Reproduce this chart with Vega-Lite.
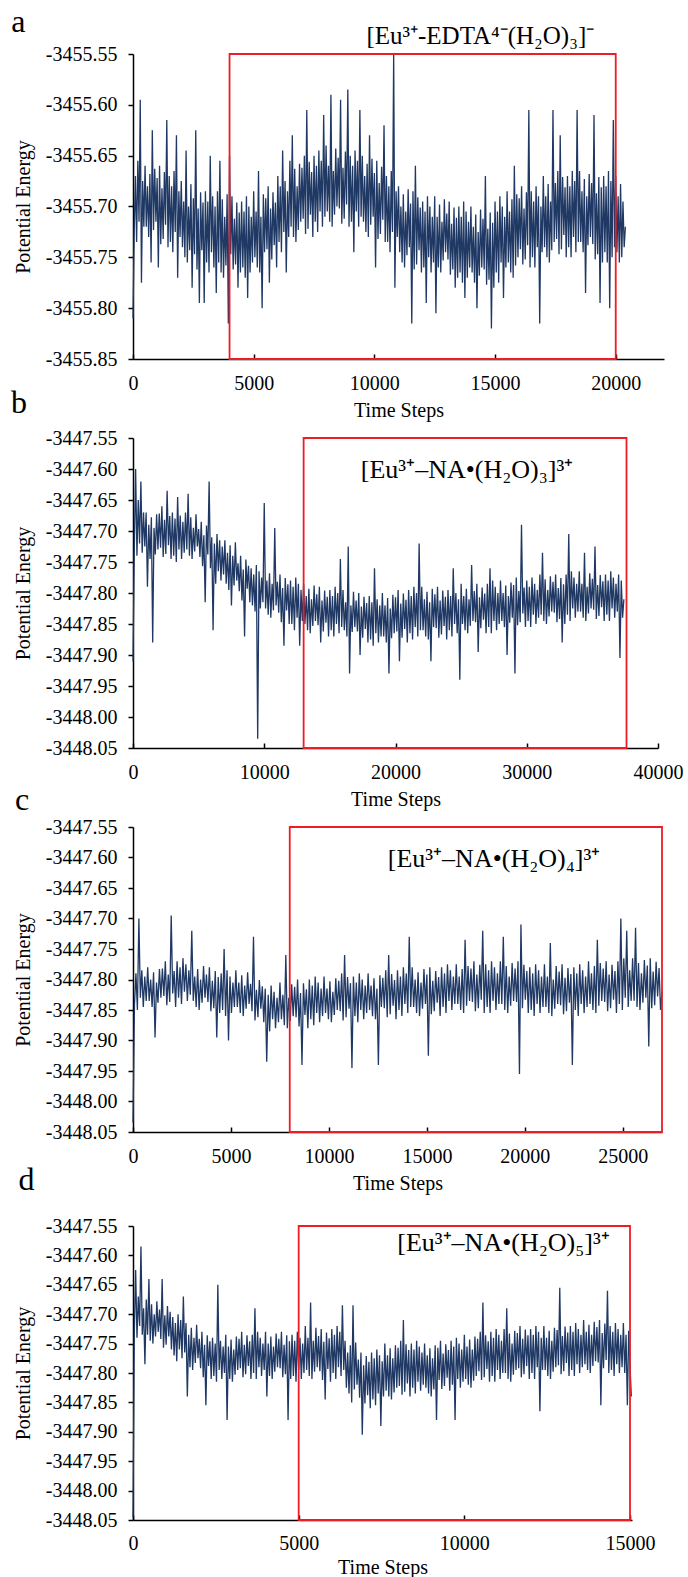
{
"$schema": "https://vega.github.io/schema/vega-lite/v6.json",
"background": "white",
"padding": {"left": 10, "top": 5, "right": 5, "bottom": 2},
"bounds": "full",
"spacing": -29,
"config": {
  "view": {"stroke": null},
  "font": "Liberation Serif",
  "axis": {"labelFont": "Liberation Serif", "titleFont": "Liberation Serif", "labelFontSize": 20, "titleFontSize": 20, "titleFontWeight": "normal", "labelColor": "black", "titleColor": "black", "domainColor": "black", "tickColor": "black", "domainWidth": 1.5, "tickWidth": 1.5, "grid": false, "labelOverlap": false},
  "axisX": {"tickSize": -5, "labelPadding": 19, "titlePadding": 7, "labelFlush": false},
  "axisY": {"tickSize": 5, "labelPadding": 11, "titlePadding": 12, "labelOverlap": false}
},
"datasets": {
"pa": [
{"t":0,"e":-3455.81},{"t":50,"e":-3455.725},{"t":100,"e":-3455.67},{"t":150,"e":-3455.735},{"t":200,"e":-3455.655},{"t":250,"e":-3455.715},{"t":300,"e":-3455.595},{"t":350,"e":-3455.775},{"t":400,"e":-3455.675},{"t":450,"e":-3455.72},
{"t":500,"e":-3455.66},{"t":550,"e":-3455.72},{"t":600,"e":-3455.68},{"t":650,"e":-3455.73},{"t":700,"e":-3455.668},{"t":750,"e":-3455.755},{"t":800,"e":-3455.625},{"t":850,"e":-3455.723},{"t":900,"e":-3455.663},{"t":950,"e":-3455.715},
{"t":1000,"e":-3455.672},{"t":1050,"e":-3455.76},{"t":1100,"e":-3455.66},{"t":1150,"e":-3455.737},{"t":1200,"e":-3455.682},{"t":1250,"e":-3455.732},{"t":1300,"e":-3455.666},{"t":1350,"e":-3455.718},{"t":1400,"e":-3455.615},{"t":1450,"e":-3455.74},
{"t":1500,"e":-3455.67},{"t":1550,"e":-3455.735},{"t":1600,"e":-3455.68},{"t":1650,"e":-3455.745},{"t":1700,"e":-3455.665},{"t":1750,"e":-3455.725},{"t":1800,"e":-3455.63},{"t":1850,"e":-3455.77},{"t":1900,"e":-3455.685},{"t":1950,"e":-3455.73},
{"t":2000,"e":-3455.675},{"t":2050,"e":-3455.74},{"t":2100,"e":-3455.695},{"t":2150,"e":-3455.75},{"t":2200,"e":-3455.645},{"t":2250,"e":-3455.755},{"t":2300,"e":-3455.7},{"t":2350,"e":-3455.743},{"t":2400,"e":-3455.678},{"t":2450,"e":-3455.78},
{"t":2500,"e":-3455.692},{"t":2550,"e":-3455.747},{"t":2600,"e":-3455.625},{"t":2650,"e":-3455.762},{"t":2700,"e":-3455.702},{"t":2750,"e":-3455.795},{"t":2800,"e":-3455.686},{"t":2850,"e":-3455.743},{"t":2900,"e":-3455.696},{"t":2950,"e":-3455.795},
{"t":3000,"e":-3455.685},{"t":3050,"e":-3455.755},{"t":3100,"e":-3455.695},{"t":3150,"e":-3455.765},{"t":3200,"e":-3455.65},{"t":3250,"e":-3455.745},{"t":3300,"e":-3455.69},{"t":3350,"e":-3455.76},{"t":3400,"e":-3455.7},{"t":3450,"e":-3455.785},
{"t":3500,"e":-3455.685},{"t":3550,"e":-3455.755},{"t":3600,"e":-3455.655},{"t":3650,"e":-3455.765},{"t":3700,"e":-3455.693},{"t":3750,"e":-3455.77},{"t":3800,"e":-3455.71},{"t":3850,"e":-3455.758},{"t":3900,"e":-3455.688},{"t":3950,"e":-3455.815},
{"t":4000,"e":-3455.65},{"t":4050,"e":-3455.747},{"t":4100,"e":-3455.69},{"t":4150,"e":-3455.762},{"t":4200,"e":-3455.712},{"t":4250,"e":-3455.757},{"t":4300,"e":-3455.696},{"t":4350,"e":-3455.78},{"t":4400,"e":-3455.706},{"t":4450,"e":-3455.765},
{"t":4500,"e":-3455.695},{"t":4550,"e":-3455.76},{"t":4600,"e":-3455.705},{"t":4650,"e":-3455.77},{"t":4700,"e":-3455.69},{"t":4750,"e":-3455.79},{"t":4800,"e":-3455.7},{"t":4850,"e":-3455.765},{"t":4900,"e":-3455.71},{"t":4950,"e":-3455.755},
{"t":5000,"e":-3455.685},{"t":5050,"e":-3455.75},{"t":5100,"e":-3455.705},{"t":5150,"e":-3455.76},{"t":5200,"e":-3455.665},{"t":5250,"e":-3455.765},{"t":5300,"e":-3455.71},{"t":5350,"e":-3455.8},{"t":5400,"e":-3455.688},{"t":5450,"e":-3455.745},
{"t":5500,"e":-3455.692},{"t":5550,"e":-3455.742},{"t":5600,"e":-3455.68},{"t":5650,"e":-3455.775},{"t":5700,"e":-3455.702},{"t":5750,"e":-3455.752},{"t":5800,"e":-3455.686},{"t":5850,"e":-3455.738},{"t":5900,"e":-3455.696},{"t":5950,"e":-3455.76},
{"t":6000,"e":-3455.67},{"t":6050,"e":-3455.735},{"t":6100,"e":-3455.68},{"t":6150,"e":-3455.745},{"t":6200,"e":-3455.645},{"t":6250,"e":-3455.725},{"t":6300,"e":-3455.675},{"t":6350,"e":-3455.765},{"t":6400,"e":-3455.685},{"t":6450,"e":-3455.73},
{"t":6500,"e":-3455.655},{"t":6550,"e":-3455.72},{"t":6600,"e":-3455.63},{"t":6650,"e":-3455.73},{"t":6700,"e":-3455.663},{"t":6750,"e":-3455.735},{"t":6800,"e":-3455.68},{"t":6850,"e":-3455.723},{"t":6900,"e":-3455.658},{"t":6950,"e":-3455.715},
{"t":7000,"e":-3455.662},{"t":7050,"e":-3455.712},{"t":7100,"e":-3455.65},{"t":7150,"e":-3455.727},{"t":7200,"e":-3455.605},{"t":7250,"e":-3455.722},{"t":7300,"e":-3455.656},{"t":7350,"e":-3455.708},{"t":7400,"e":-3455.666},{"t":7450,"e":-3455.73},
{"t":7500,"e":-3455.65},{"t":7550,"e":-3455.715},{"t":7600,"e":-3455.66},{"t":7650,"e":-3455.725},{"t":7700,"e":-3455.645},{"t":7750,"e":-3455.705},{"t":7800,"e":-3455.655},{"t":7850,"e":-3455.72},{"t":7900,"e":-3455.61},{"t":7950,"e":-3455.71},
{"t":8000,"e":-3455.64},{"t":8050,"e":-3455.705},{"t":8100,"e":-3455.66},{"t":8150,"e":-3455.715},{"t":8200,"e":-3455.59},{"t":8250,"e":-3455.72},{"t":8300,"e":-3455.665},{"t":8350,"e":-3455.708},{"t":8400,"e":-3455.643},{"t":8450,"e":-3455.7},
{"t":8500,"e":-3455.652},{"t":8550,"e":-3455.702},{"t":8600,"e":-3455.595},{"t":8650,"e":-3455.717},{"t":8700,"e":-3455.662},{"t":8750,"e":-3455.712},{"t":8800,"e":-3455.646},{"t":8850,"e":-3455.698},{"t":8900,"e":-3455.585},{"t":8950,"e":-3455.72},
{"t":9000,"e":-3455.65},{"t":9050,"e":-3455.715},{"t":9100,"e":-3455.66},{"t":9150,"e":-3455.745},{"t":9200,"e":-3455.645},{"t":9250,"e":-3455.705},{"t":9300,"e":-3455.655},{"t":9350,"e":-3455.72},{"t":9400,"e":-3455.605},{"t":9450,"e":-3455.71},
{"t":9500,"e":-3455.65},{"t":9550,"e":-3455.715},{"t":9600,"e":-3455.67},{"t":9650,"e":-3455.725},{"t":9700,"e":-3455.658},{"t":9750,"e":-3455.73},{"t":9800,"e":-3455.63},{"t":9850,"e":-3455.718},{"t":9900,"e":-3455.653},{"t":9950,"e":-3455.71},
{"t":10000,"e":-3455.667},{"t":10050,"e":-3455.76},{"t":10100,"e":-3455.655},{"t":10150,"e":-3455.732},{"t":10200,"e":-3455.677},{"t":10250,"e":-3455.727},{"t":10300,"e":-3455.661},{"t":10350,"e":-3455.713},{"t":10400,"e":-3455.62},{"t":10450,"e":-3455.735},
{"t":10500,"e":-3455.67},{"t":10550,"e":-3455.735},{"t":10600,"e":-3455.68},{"t":10650,"e":-3455.745},{"t":10700,"e":-3455.665},{"t":10750,"e":-3455.725},{"t":10800,"e":-3455.55},{"t":10850,"e":-3455.78},{"t":10900,"e":-3455.685},{"t":10950,"e":-3455.73},
{"t":11000,"e":-3455.68},{"t":11050,"e":-3455.745},{"t":11100,"e":-3455.7},{"t":11150,"e":-3455.755},{"t":11200,"e":-3455.688},{"t":11250,"e":-3455.76},{"t":11300,"e":-3455.705},{"t":11350,"e":-3455.748},{"t":11400,"e":-3455.683},{"t":11450,"e":-3455.74},
{"t":11500,"e":-3455.697},{"t":11550,"e":-3455.815},{"t":11600,"e":-3455.685},{"t":11650,"e":-3455.762},{"t":11700,"e":-3455.66},{"t":11750,"e":-3455.757},{"t":11800,"e":-3455.691},{"t":11850,"e":-3455.743},{"t":11900,"e":-3455.701},{"t":11950,"e":-3455.765},
{"t":12000,"e":-3455.695},{"t":12050,"e":-3455.76},{"t":12100,"e":-3455.705},{"t":12150,"e":-3455.795},{"t":12200,"e":-3455.69},{"t":12250,"e":-3455.75},{"t":12300,"e":-3455.7},{"t":12350,"e":-3455.765},{"t":12400,"e":-3455.71},{"t":12450,"e":-3455.755},
{"t":12500,"e":-3455.69},{"t":12550,"e":-3455.805},{"t":12600,"e":-3455.71},{"t":12650,"e":-3455.76},{"t":12700,"e":-3455.698},{"t":12750,"e":-3455.765},{"t":12800,"e":-3455.715},{"t":12850,"e":-3455.753},{"t":12900,"e":-3455.693},{"t":12950,"e":-3455.745},
{"t":13000,"e":-3455.707},{"t":13050,"e":-3455.752},{"t":13100,"e":-3455.695},{"t":13150,"e":-3455.767},{"t":13200,"e":-3455.717},{"t":13250,"e":-3455.762},{"t":13300,"e":-3455.701},{"t":13350,"e":-3455.78},{"t":13400,"e":-3455.711},{"t":13450,"e":-3455.77},
{"t":13500,"e":-3455.7},{"t":13550,"e":-3455.765},{"t":13600,"e":-3455.71},{"t":13650,"e":-3455.775},{"t":13700,"e":-3455.695},{"t":13750,"e":-3455.79},{"t":13800,"e":-3455.705},{"t":13850,"e":-3455.77},{"t":13900,"e":-3455.715},{"t":13950,"e":-3455.76},
{"t":14000,"e":-3455.7},{"t":14050,"e":-3455.765},{"t":14100,"e":-3455.72},{"t":14150,"e":-3455.775},{"t":14200,"e":-3455.708},{"t":14250,"e":-3455.8},{"t":14300,"e":-3455.725},{"t":14350,"e":-3455.768},{"t":14400,"e":-3455.703},{"t":14450,"e":-3455.76},
{"t":14500,"e":-3455.712},{"t":14550,"e":-3455.762},{"t":14600,"e":-3455.67},{"t":14650,"e":-3455.777},{"t":14700,"e":-3455.722},{"t":14750,"e":-3455.772},{"t":14800,"e":-3455.706},{"t":14850,"e":-3455.82},{"t":14900,"e":-3455.716},{"t":14950,"e":-3455.78},
{"t":15000,"e":-3455.695},{"t":15050,"e":-3455.765},{"t":15100,"e":-3455.705},{"t":15150,"e":-3455.775},{"t":15200,"e":-3455.69},{"t":15250,"e":-3455.755},{"t":15300,"e":-3455.7},{"t":15350,"e":-3455.79},{"t":15400,"e":-3455.71},{"t":15450,"e":-3455.76},
{"t":15500,"e":-3455.685},{"t":15550,"e":-3455.755},{"t":15600,"e":-3455.705},{"t":15650,"e":-3455.765},{"t":15700,"e":-3455.693},{"t":15750,"e":-3455.77},{"t":15800,"e":-3455.66},{"t":15850,"e":-3455.758},{"t":15900,"e":-3455.688},{"t":15950,"e":-3455.75},
{"t":16000,"e":-3455.692},{"t":16050,"e":-3455.742},{"t":16100,"e":-3455.68},{"t":16150,"e":-3455.757},{"t":16200,"e":-3455.702},{"t":16250,"e":-3455.752},{"t":16300,"e":-3455.686},{"t":16350,"e":-3455.738},{"t":16400,"e":-3455.605},{"t":16450,"e":-3455.76},
{"t":16500,"e":-3455.685},{"t":16550,"e":-3455.75},{"t":16600,"e":-3455.695},{"t":16650,"e":-3455.76},{"t":16700,"e":-3455.68},{"t":16750,"e":-3455.74},{"t":16800,"e":-3455.69},{"t":16850,"e":-3455.815},{"t":16900,"e":-3455.7},{"t":16950,"e":-3455.745},
{"t":17000,"e":-3455.67},{"t":17050,"e":-3455.74},{"t":17100,"e":-3455.69},{"t":17150,"e":-3455.75},{"t":17200,"e":-3455.678},{"t":17250,"e":-3455.755},{"t":17300,"e":-3455.695},{"t":17350,"e":-3455.743},{"t":17400,"e":-3455.605},{"t":17450,"e":-3455.735},
{"t":17500,"e":-3455.677},{"t":17550,"e":-3455.732},{"t":17600,"e":-3455.665},{"t":17650,"e":-3455.747},{"t":17700,"e":-3455.63},{"t":17750,"e":-3455.742},{"t":17800,"e":-3455.671},{"t":17850,"e":-3455.728},{"t":17900,"e":-3455.681},{"t":17950,"e":-3455.75},
{"t":18000,"e":-3455.67},{"t":18050,"e":-3455.74},{"t":18100,"e":-3455.68},{"t":18150,"e":-3455.75},{"t":18200,"e":-3455.665},{"t":18250,"e":-3455.73},{"t":18300,"e":-3455.675},{"t":18350,"e":-3455.745},{"t":18400,"e":-3455.605},{"t":18450,"e":-3455.735},
{"t":18500,"e":-3455.665},{"t":18550,"e":-3455.735},{"t":18600,"e":-3455.685},{"t":18650,"e":-3455.745},{"t":18700,"e":-3455.673},{"t":18750,"e":-3455.785},{"t":18800,"e":-3455.69},{"t":18850,"e":-3455.738},{"t":18900,"e":-3455.668},{"t":18950,"e":-3455.73},
{"t":19000,"e":-3455.677},{"t":19050,"e":-3455.737},{"t":19100,"e":-3455.61},{"t":19150,"e":-3455.752},{"t":19200,"e":-3455.687},{"t":19250,"e":-3455.747},{"t":19300,"e":-3455.671},{"t":19350,"e":-3455.795},{"t":19400,"e":-3455.681},{"t":19450,"e":-3455.755},
{"t":19500,"e":-3455.67},{"t":19550,"e":-3455.745},{"t":19600,"e":-3455.68},{"t":19650,"e":-3455.755},{"t":19700,"e":-3455.665},{"t":19750,"e":-3455.8},{"t":19800,"e":-3455.675},{"t":19850,"e":-3455.75},{"t":19900,"e":-3455.615},{"t":19950,"e":-3455.74},
{"t":20000,"e":-3455.67},{"t":20050,"e":-3455.745},{"t":20100,"e":-3455.69},{"t":20150,"e":-3455.755},{"t":20200,"e":-3455.678},{"t":20250,"e":-3455.75},{"t":20300,"e":-3455.695},{"t":20350,"e":-3455.74},{"t":20400,"e":-3455.72}
],
"pb": [
{"t":0,"e":-3447.91},{"t":100,"e":-3447.73},{"t":200,"e":-3447.6},{"t":300,"e":-3447.74},{"t":400,"e":-3447.65},{"t":500,"e":-3447.72},{"t":600,"e":-3447.62},{"t":700,"e":-3447.735},{"t":800,"e":-3447.67},{"t":900,"e":-3447.725},
{"t":1000,"e":-3447.67},{"t":1100,"e":-3447.79},{"t":1200,"e":-3447.69},{"t":1300,"e":-3447.745},{"t":1400,"e":-3447.678},{"t":1500,"e":-3447.88},{"t":1600,"e":-3447.695},{"t":1700,"e":-3447.738},{"t":1800,"e":-3447.673},{"t":1900,"e":-3447.73},
{"t":2000,"e":-3447.672},{"t":2100,"e":-3447.727},{"t":2200,"e":-3447.66},{"t":2300,"e":-3447.742},{"t":2400,"e":-3447.682},{"t":2500,"e":-3447.737},{"t":2600,"e":-3447.635},{"t":2700,"e":-3447.723},{"t":2800,"e":-3447.676},{"t":2900,"e":-3447.745},
{"t":3000,"e":-3447.67},{"t":3100,"e":-3447.74},{"t":3200,"e":-3447.68},{"t":3300,"e":-3447.75},{"t":3400,"e":-3447.645},{"t":3500,"e":-3447.73},{"t":3600,"e":-3447.675},{"t":3700,"e":-3447.745},{"t":3800,"e":-3447.685},{"t":3900,"e":-3447.735},
{"t":4000,"e":-3447.67},{"t":4100,"e":-3447.73},{"t":4200,"e":-3447.64},{"t":4300,"e":-3447.74},{"t":4400,"e":-3447.678},{"t":4500,"e":-3447.745},{"t":4600,"e":-3447.695},{"t":4700,"e":-3447.733},{"t":4800,"e":-3447.673},{"t":4900,"e":-3447.725},
{"t":5000,"e":-3447.697},{"t":5100,"e":-3447.742},{"t":5200,"e":-3447.685},{"t":5300,"e":-3447.757},{"t":5400,"e":-3447.707},{"t":5500,"e":-3447.815},{"t":5600,"e":-3447.691},{"t":5700,"e":-3447.738},{"t":5800,"e":-3447.62},{"t":5900,"e":-3447.76},
{"t":6000,"e":-3447.71},{"t":6100,"e":-3447.86},{"t":6200,"e":-3447.72},{"t":6300,"e":-3447.785},{"t":6400,"e":-3447.705},{"t":6500,"e":-3447.765},{"t":6600,"e":-3447.715},{"t":6700,"e":-3447.78},{"t":6800,"e":-3447.725},{"t":6900,"e":-3447.77},
{"t":7000,"e":-3447.715},{"t":7100,"e":-3447.785},{"t":7200,"e":-3447.735},{"t":7300,"e":-3447.795},{"t":7400,"e":-3447.723},{"t":7500,"e":-3447.82},{"t":7600,"e":-3447.74},{"t":7700,"e":-3447.788},{"t":7800,"e":-3447.718},{"t":7900,"e":-3447.78},
{"t":8000,"e":-3447.752},{"t":8100,"e":-3447.797},{"t":8200,"e":-3447.74},{"t":8300,"e":-3447.812},{"t":8400,"e":-3447.762},{"t":8500,"e":-3447.87},{"t":8600,"e":-3447.746},{"t":8700,"e":-3447.793},{"t":8800,"e":-3447.756},{"t":8900,"e":-3447.815},
{"t":9000,"e":-3447.76},{"t":9100,"e":-3447.82},{"t":9200,"e":-3447.77},{"t":9300,"e":-3447.83},{"t":9400,"e":-3447.755},{"t":9500,"e":-3448.035},{"t":9600,"e":-3447.765},{"t":9700,"e":-3447.825},{"t":9800,"e":-3447.775},{"t":9900,"e":-3447.815},
{"t":10000,"e":-3447.655},{"t":10100,"e":-3447.825},{"t":10200,"e":-3447.78},{"t":10300,"e":-3447.835},{"t":10400,"e":-3447.768},{"t":10500,"e":-3447.84},{"t":10600,"e":-3447.785},{"t":10700,"e":-3447.828},{"t":10800,"e":-3447.695},{"t":10900,"e":-3447.82},
{"t":11000,"e":-3447.782},{"t":11100,"e":-3447.832},{"t":11200,"e":-3447.77},{"t":11300,"e":-3447.847},{"t":11400,"e":-3447.792},{"t":11500,"e":-3447.885},{"t":11600,"e":-3447.776},{"t":11700,"e":-3447.828},{"t":11800,"e":-3447.786},{"t":11900,"e":-3447.85},
{"t":12000,"e":-3447.78},{"t":12100,"e":-3447.85},{"t":12200,"e":-3447.79},{"t":12300,"e":-3447.86},{"t":12400,"e":-3447.775},{"t":12500,"e":-3447.84},{"t":12600,"e":-3447.785},{"t":12700,"e":-3447.885},{"t":12800,"e":-3447.795},{"t":12900,"e":-3447.845},
{"t":13000,"e":-3447.785},{"t":13100,"e":-3447.85},{"t":13200,"e":-3447.805},{"t":13300,"e":-3447.86},{"t":13400,"e":-3447.793},{"t":13500,"e":-3447.865},{"t":13600,"e":-3447.81},{"t":13700,"e":-3447.853},{"t":13800,"e":-3447.788},{"t":13900,"e":-3447.845},
{"t":14000,"e":-3447.802},{"t":14100,"e":-3447.852},{"t":14200,"e":-3447.79},{"t":14300,"e":-3447.88},{"t":14400,"e":-3447.812},{"t":14500,"e":-3447.862},{"t":14600,"e":-3447.796},{"t":14700,"e":-3447.848},{"t":14800,"e":-3447.806},{"t":14900,"e":-3447.87},
{"t":15000,"e":-3447.795},{"t":15100,"e":-3447.86},{"t":15200,"e":-3447.805},{"t":15300,"e":-3447.87},{"t":15400,"e":-3447.79},{"t":15500,"e":-3447.85},{"t":15600,"e":-3447.8},{"t":15700,"e":-3447.865},{"t":15800,"e":-3447.745},{"t":15900,"e":-3447.855},
{"t":16000,"e":-3447.795},{"t":16100,"e":-3447.86},{"t":16200,"e":-3447.815},{"t":16300,"e":-3447.87},{"t":16400,"e":-3447.725},{"t":16500,"e":-3447.93},{"t":16600,"e":-3447.82},{"t":16700,"e":-3447.863},{"t":16800,"e":-3447.798},{"t":16900,"e":-3447.855},
{"t":17000,"e":-3447.812},{"t":17100,"e":-3447.862},{"t":17200,"e":-3447.8},{"t":17300,"e":-3447.9},{"t":17400,"e":-3447.822},{"t":17500,"e":-3447.872},{"t":17600,"e":-3447.806},{"t":17700,"e":-3447.858},{"t":17800,"e":-3447.816},{"t":17900,"e":-3447.88},
{"t":18000,"e":-3447.805},{"t":18100,"e":-3447.875},{"t":18200,"e":-3447.815},{"t":18300,"e":-3447.885},{"t":18400,"e":-3447.76},{"t":18500,"e":-3447.865},{"t":18600,"e":-3447.81},{"t":18700,"e":-3447.88},{"t":18800,"e":-3447.82},{"t":18900,"e":-3447.87},
{"t":19000,"e":-3447.8},{"t":19100,"e":-3447.87},{"t":19200,"e":-3447.82},{"t":19300,"e":-3447.88},{"t":19400,"e":-3447.808},{"t":19500,"e":-3447.93},{"t":19600,"e":-3447.825},{"t":19700,"e":-3447.873},{"t":19800,"e":-3447.803},{"t":19900,"e":-3447.865},
{"t":20000,"e":-3447.807},{"t":20100,"e":-3447.862},{"t":20200,"e":-3447.795},{"t":20300,"e":-3447.91},{"t":20400,"e":-3447.817},{"t":20500,"e":-3447.872},{"t":20600,"e":-3447.801},{"t":20700,"e":-3447.858},{"t":20800,"e":-3447.811},{"t":20900,"e":-3447.88},
{"t":21000,"e":-3447.795},{"t":21100,"e":-3447.865},{"t":21200,"e":-3447.805},{"t":21300,"e":-3447.875},{"t":21400,"e":-3447.79},{"t":21500,"e":-3447.855},{"t":21600,"e":-3447.8},{"t":21700,"e":-3447.87},{"t":21800,"e":-3447.72},{"t":21900,"e":-3447.86},
{"t":22000,"e":-3447.79},{"t":22100,"e":-3447.86},{"t":22200,"e":-3447.81},{"t":22300,"e":-3447.87},{"t":22400,"e":-3447.798},{"t":22500,"e":-3447.875},{"t":22600,"e":-3447.815},{"t":22700,"e":-3447.91},{"t":22800,"e":-3447.793},{"t":22900,"e":-3447.855},
{"t":23000,"e":-3447.802},{"t":23100,"e":-3447.857},{"t":23200,"e":-3447.79},{"t":23300,"e":-3447.872},{"t":23400,"e":-3447.812},{"t":23500,"e":-3447.867},{"t":23600,"e":-3447.796},{"t":23700,"e":-3447.853},{"t":23800,"e":-3447.806},{"t":23900,"e":-3447.875},
{"t":24000,"e":-3447.795},{"t":24100,"e":-3447.86},{"t":24200,"e":-3447.805},{"t":24300,"e":-3447.87},{"t":24400,"e":-3447.76},{"t":24500,"e":-3447.85},{"t":24600,"e":-3447.8},{"t":24700,"e":-3447.865},{"t":24800,"e":-3447.81},{"t":24900,"e":-3447.94},
{"t":25000,"e":-3447.785},{"t":25100,"e":-3447.85},{"t":25200,"e":-3447.805},{"t":25300,"e":-3447.86},{"t":25400,"e":-3447.793},{"t":25500,"e":-3447.865},{"t":25600,"e":-3447.81},{"t":25700,"e":-3447.853},{"t":25800,"e":-3447.755},{"t":25900,"e":-3447.845},
{"t":26000,"e":-3447.797},{"t":26100,"e":-3447.847},{"t":26200,"e":-3447.785},{"t":26300,"e":-3447.895},{"t":26400,"e":-3447.807},{"t":26500,"e":-3447.857},{"t":26600,"e":-3447.791},{"t":26700,"e":-3447.843},{"t":26800,"e":-3447.801},{"t":26900,"e":-3447.865},
{"t":27000,"e":-3447.785},{"t":27100,"e":-3447.855},{"t":27200,"e":-3447.76},{"t":27300,"e":-3447.865},{"t":27400,"e":-3447.78},{"t":27500,"e":-3447.845},{"t":27600,"e":-3447.79},{"t":27700,"e":-3447.86},{"t":27800,"e":-3447.8},{"t":27900,"e":-3447.85},
{"t":28000,"e":-3447.78},{"t":28100,"e":-3447.845},{"t":28200,"e":-3447.8},{"t":28300,"e":-3447.855},{"t":28400,"e":-3447.788},{"t":28500,"e":-3447.9},{"t":28600,"e":-3447.805},{"t":28700,"e":-3447.848},{"t":28800,"e":-3447.783},{"t":28900,"e":-3447.84},
{"t":29000,"e":-3447.787},{"t":29100,"e":-3447.93},{"t":29200,"e":-3447.775},{"t":29300,"e":-3447.852},{"t":29400,"e":-3447.797},{"t":29500,"e":-3447.847},{"t":29600,"e":-3447.69},{"t":29700,"e":-3447.833},{"t":29800,"e":-3447.791},{"t":29900,"e":-3447.855},
{"t":30000,"e":-3447.78},{"t":30100,"e":-3447.845},{"t":30200,"e":-3447.79},{"t":30300,"e":-3447.855},{"t":30400,"e":-3447.775},{"t":30500,"e":-3447.835},{"t":30600,"e":-3447.785},{"t":30700,"e":-3447.85},{"t":30800,"e":-3447.795},{"t":30900,"e":-3447.84},
{"t":31000,"e":-3447.77},{"t":31100,"e":-3447.835},{"t":31200,"e":-3447.735},{"t":31300,"e":-3447.845},{"t":31400,"e":-3447.778},{"t":31500,"e":-3447.85},{"t":31600,"e":-3447.795},{"t":31700,"e":-3447.838},{"t":31800,"e":-3447.773},{"t":31900,"e":-3447.83},
{"t":32000,"e":-3447.782},{"t":32100,"e":-3447.832},{"t":32200,"e":-3447.77},{"t":32300,"e":-3447.847},{"t":32400,"e":-3447.792},{"t":32500,"e":-3447.842},{"t":32600,"e":-3447.776},{"t":32700,"e":-3447.88},{"t":32800,"e":-3447.786},{"t":32900,"e":-3447.85},
{"t":33000,"e":-3447.77},{"t":33100,"e":-3447.835},{"t":33200,"e":-3447.705},{"t":33300,"e":-3447.845},{"t":33400,"e":-3447.765},{"t":33500,"e":-3447.825},{"t":33600,"e":-3447.775},{"t":33700,"e":-3447.84},{"t":33800,"e":-3447.785},{"t":33900,"e":-3447.83},
{"t":34000,"e":-3447.765},{"t":34100,"e":-3447.83},{"t":34200,"e":-3447.785},{"t":34300,"e":-3447.84},{"t":34400,"e":-3447.735},{"t":34500,"e":-3447.845},{"t":34600,"e":-3447.79},{"t":34700,"e":-3447.833},{"t":34800,"e":-3447.768},{"t":34900,"e":-3447.825},
{"t":35000,"e":-3447.777},{"t":35100,"e":-3447.827},{"t":35200,"e":-3447.725},{"t":35300,"e":-3447.842},{"t":35400,"e":-3447.787},{"t":35500,"e":-3447.837},{"t":35600,"e":-3447.771},{"t":35700,"e":-3447.823},{"t":35800,"e":-3447.781},{"t":35900,"e":-3447.845},
{"t":36000,"e":-3447.77},{"t":36100,"e":-3447.835},{"t":36200,"e":-3447.78},{"t":36300,"e":-3447.845},{"t":36400,"e":-3447.765},{"t":36500,"e":-3447.825},{"t":36600,"e":-3447.775},{"t":36700,"e":-3447.84},{"t":36800,"e":-3447.785},{"t":36900,"e":-3447.83},
{"t":37000,"e":-3447.77},{"t":37100,"e":-3447.905},{"t":37200,"e":-3447.78},{"t":37300,"e":-3447.84},{"t":37400,"e":-3447.81}
],
"pc": [
{"t":0,"e":-3448.035},{"t":75,"e":-3447.84},{"t":150,"e":-3447.79},{"t":225,"e":-3447.85},{"t":300,"e":-3447.7},{"t":375,"e":-3447.83},{"t":450,"e":-3447.785},{"t":525,"e":-3447.845},{"t":600,"e":-3447.795},{"t":675,"e":-3447.835},
{"t":750,"e":-3447.78},{"t":825,"e":-3447.835},{"t":900,"e":-3447.8},{"t":975,"e":-3447.845},{"t":1050,"e":-3447.788},{"t":1125,"e":-3447.895},{"t":1200,"e":-3447.805},{"t":1275,"e":-3447.838},{"t":1350,"e":-3447.783},{"t":1425,"e":-3447.83},
{"t":1500,"e":-3447.782},{"t":1575,"e":-3447.827},{"t":1650,"e":-3447.77},{"t":1725,"e":-3447.842},{"t":1800,"e":-3447.792},{"t":1875,"e":-3447.837},{"t":1950,"e":-3447.695},{"t":2025,"e":-3447.823},{"t":2100,"e":-3447.786},{"t":2175,"e":-3447.845},
{"t":2250,"e":-3447.77},{"t":2325,"e":-3447.83},{"t":2400,"e":-3447.78},{"t":2475,"e":-3447.84},{"t":2550,"e":-3447.765},{"t":2625,"e":-3447.82},{"t":2700,"e":-3447.775},{"t":2775,"e":-3447.835},{"t":2850,"e":-3447.785},{"t":2925,"e":-3447.825},
{"t":3000,"e":-3447.72},{"t":3075,"e":-3447.835},{"t":3150,"e":-3447.795},{"t":3225,"e":-3447.845},{"t":3300,"e":-3447.783},{"t":3375,"e":-3447.85},{"t":3450,"e":-3447.8},{"t":3525,"e":-3447.838},{"t":3600,"e":-3447.778},{"t":3675,"e":-3447.83},
{"t":3750,"e":-3447.792},{"t":3825,"e":-3447.837},{"t":3900,"e":-3447.78},{"t":3975,"e":-3447.852},{"t":4050,"e":-3447.802},{"t":4125,"e":-3447.847},{"t":4200,"e":-3447.786},{"t":4275,"e":-3447.895},{"t":4350,"e":-3447.796},{"t":4425,"e":-3447.855},
{"t":4500,"e":-3447.79},{"t":4575,"e":-3447.85},{"t":4650,"e":-3447.75},{"t":4725,"e":-3447.86},{"t":4800,"e":-3447.785},{"t":4875,"e":-3447.9},{"t":4950,"e":-3447.795},{"t":5025,"e":-3447.855},{"t":5100,"e":-3447.805},{"t":5175,"e":-3447.845},
{"t":5250,"e":-3447.785},{"t":5325,"e":-3447.845},{"t":5400,"e":-3447.805},{"t":5475,"e":-3447.855},{"t":5550,"e":-3447.793},{"t":5625,"e":-3447.86},{"t":5700,"e":-3447.81},{"t":5775,"e":-3447.848},{"t":5850,"e":-3447.788},{"t":5925,"e":-3447.84},
{"t":6000,"e":-3447.807},{"t":6075,"e":-3447.852},{"t":6150,"e":-3447.73},{"t":6225,"e":-3447.867},{"t":6300,"e":-3447.817},{"t":6375,"e":-3447.862},{"t":6450,"e":-3447.801},{"t":6525,"e":-3447.848},{"t":6600,"e":-3447.811},{"t":6675,"e":-3447.87},
{"t":6750,"e":-3447.815},{"t":6825,"e":-3447.935},{"t":6900,"e":-3447.825},{"t":6975,"e":-3447.885},{"t":7050,"e":-3447.81},{"t":7125,"e":-3447.865},{"t":7200,"e":-3447.82},{"t":7275,"e":-3447.88},{"t":7350,"e":-3447.83},{"t":7425,"e":-3447.87},
{"t":7500,"e":-3447.805},{"t":7575,"e":-3447.865},{"t":7650,"e":-3447.825},{"t":7725,"e":-3447.875},{"t":7800,"e":-3447.76},{"t":7875,"e":-3447.88},{"t":7950,"e":-3447.83},{"t":8025,"e":-3447.868},{"t":8100,"e":-3447.808},{"t":8175,"e":-3447.86},
{"t":8250,"e":-3447.812},{"t":8325,"e":-3447.862},{"t":8400,"e":-3447.8},{"t":8475,"e":-3447.877},{"t":8550,"e":-3447.822},{"t":8625,"e":-3447.94},{"t":8700,"e":-3447.806},{"t":8775,"e":-3447.858},{"t":8850,"e":-3447.816},{"t":8925,"e":-3447.88},
{"t":9000,"e":-3447.8},{"t":9075,"e":-3447.865},{"t":9150,"e":-3447.81},{"t":9225,"e":-3447.875},{"t":9300,"e":-3447.795},{"t":9375,"e":-3447.855},{"t":9450,"e":-3447.805},{"t":9525,"e":-3447.87},{"t":9600,"e":-3447.815},{"t":9675,"e":-3447.86},
{"t":9750,"e":-3447.795},{"t":9825,"e":-3447.855},{"t":9900,"e":-3447.815},{"t":9975,"e":-3447.865},{"t":10050,"e":-3447.803},{"t":10125,"e":-3447.87},{"t":10200,"e":-3447.82},{"t":10275,"e":-3447.858},{"t":10350,"e":-3447.798},{"t":10425,"e":-3447.85},
{"t":10500,"e":-3447.802},{"t":10575,"e":-3447.852},{"t":10650,"e":-3447.79},{"t":10725,"e":-3447.867},{"t":10800,"e":-3447.76},{"t":10875,"e":-3447.862},{"t":10950,"e":-3447.796},{"t":11025,"e":-3447.848},{"t":11100,"e":-3447.806},{"t":11175,"e":-3447.945},
{"t":11250,"e":-3447.795},{"t":11325,"e":-3447.86},{"t":11400,"e":-3447.805},{"t":11475,"e":-3447.87},{"t":11550,"e":-3447.79},{"t":11625,"e":-3447.85},{"t":11700,"e":-3447.8},{"t":11775,"e":-3447.865},{"t":11850,"e":-3447.81},{"t":11925,"e":-3447.855},
{"t":12000,"e":-3447.79},{"t":12075,"e":-3447.85},{"t":12150,"e":-3447.81},{"t":12225,"e":-3447.86},{"t":12300,"e":-3447.798},{"t":12375,"e":-3447.865},{"t":12450,"e":-3447.815},{"t":12525,"e":-3447.94},{"t":12600,"e":-3447.793},{"t":12675,"e":-3447.845},
{"t":12750,"e":-3447.797},{"t":12825,"e":-3447.847},{"t":12900,"e":-3447.785},{"t":12975,"e":-3447.862},{"t":13050,"e":-3447.76},{"t":13125,"e":-3447.857},{"t":13200,"e":-3447.791},{"t":13275,"e":-3447.843},{"t":13350,"e":-3447.801},{"t":13425,"e":-3447.865},
{"t":13500,"e":-3447.785},{"t":13575,"e":-3447.85},{"t":13650,"e":-3447.795},{"t":13725,"e":-3447.86},{"t":13800,"e":-3447.78},{"t":13875,"e":-3447.84},{"t":13950,"e":-3447.79},{"t":14025,"e":-3447.855},{"t":14100,"e":-3447.73},{"t":14175,"e":-3447.845},
{"t":14250,"e":-3447.78},{"t":14325,"e":-3447.845},{"t":14400,"e":-3447.8},{"t":14475,"e":-3447.855},{"t":14550,"e":-3447.788},{"t":14625,"e":-3447.86},{"t":14700,"e":-3447.805},{"t":14775,"e":-3447.848},{"t":14850,"e":-3447.783},{"t":14925,"e":-3447.84},
{"t":15000,"e":-3447.792},{"t":15075,"e":-3447.925},{"t":15150,"e":-3447.78},{"t":15225,"e":-3447.857},{"t":15300,"e":-3447.802},{"t":15375,"e":-3447.852},{"t":15450,"e":-3447.786},{"t":15525,"e":-3447.838},{"t":15600,"e":-3447.796},{"t":15675,"e":-3447.86},
{"t":15750,"e":-3447.78},{"t":15825,"e":-3447.845},{"t":15900,"e":-3447.79},{"t":15975,"e":-3447.855},{"t":16050,"e":-3447.775},{"t":16125,"e":-3447.835},{"t":16200,"e":-3447.785},{"t":16275,"e":-3447.85},{"t":16350,"e":-3447.795},{"t":16425,"e":-3447.84},
{"t":16500,"e":-3447.775},{"t":16575,"e":-3447.84},{"t":16650,"e":-3447.795},{"t":16725,"e":-3447.85},{"t":16800,"e":-3447.783},{"t":16875,"e":-3447.855},{"t":16950,"e":-3447.735},{"t":17025,"e":-3447.843},{"t":17100,"e":-3447.778},{"t":17175,"e":-3447.835},
{"t":17250,"e":-3447.782},{"t":17325,"e":-3447.837},{"t":17400,"e":-3447.77},{"t":17475,"e":-3447.852},{"t":17550,"e":-3447.792},{"t":17625,"e":-3447.847},{"t":17700,"e":-3447.776},{"t":17775,"e":-3447.833},{"t":17850,"e":-3447.72},{"t":17925,"e":-3447.855},
{"t":18000,"e":-3447.775},{"t":18075,"e":-3447.845},{"t":18150,"e":-3447.785},{"t":18225,"e":-3447.855},{"t":18300,"e":-3447.77},{"t":18375,"e":-3447.835},{"t":18450,"e":-3447.78},{"t":18525,"e":-3447.85},{"t":18600,"e":-3447.79},{"t":18675,"e":-3447.84},
{"t":18750,"e":-3447.77},{"t":18825,"e":-3447.84},{"t":18900,"e":-3447.73},{"t":18975,"e":-3447.85},{"t":19050,"e":-3447.778},{"t":19125,"e":-3447.855},{"t":19200,"e":-3447.795},{"t":19275,"e":-3447.843},{"t":19350,"e":-3447.773},{"t":19425,"e":-3447.835},
{"t":19500,"e":-3447.782},{"t":19575,"e":-3447.837},{"t":19650,"e":-3447.77},{"t":19725,"e":-3447.955},{"t":19800,"e":-3447.71},{"t":19875,"e":-3447.847},{"t":19950,"e":-3447.776},{"t":20025,"e":-3447.833},{"t":20100,"e":-3447.786},{"t":20175,"e":-3447.855},
{"t":20250,"e":-3447.78},{"t":20325,"e":-3447.85},{"t":20400,"e":-3447.79},{"t":20475,"e":-3447.86},{"t":20550,"e":-3447.775},{"t":20625,"e":-3447.84},{"t":20700,"e":-3447.785},{"t":20775,"e":-3447.855},{"t":20850,"e":-3447.795},{"t":20925,"e":-3447.845},
{"t":21000,"e":-3447.775},{"t":21075,"e":-3447.845},{"t":21150,"e":-3447.795},{"t":21225,"e":-3447.855},{"t":21300,"e":-3447.74},{"t":21375,"e":-3447.86},{"t":21450,"e":-3447.8},{"t":21525,"e":-3447.848},{"t":21600,"e":-3447.778},{"t":21675,"e":-3447.84},
{"t":21750,"e":-3447.787},{"t":21825,"e":-3447.842},{"t":21900,"e":-3447.775},{"t":21975,"e":-3447.857},{"t":22050,"e":-3447.797},{"t":22125,"e":-3447.852},{"t":22200,"e":-3447.781},{"t":22275,"e":-3447.838},{"t":22350,"e":-3447.791},{"t":22425,"e":-3447.94},
{"t":22500,"e":-3447.78},{"t":22575,"e":-3447.85},{"t":22650,"e":-3447.79},{"t":22725,"e":-3447.86},{"t":22800,"e":-3447.775},{"t":22875,"e":-3447.84},{"t":22950,"e":-3447.785},{"t":23025,"e":-3447.855},{"t":23100,"e":-3447.795},{"t":23175,"e":-3447.845},
{"t":23250,"e":-3447.77},{"t":23325,"e":-3447.84},{"t":23400,"e":-3447.79},{"t":23475,"e":-3447.85},{"t":23550,"e":-3447.778},{"t":23625,"e":-3447.855},{"t":23700,"e":-3447.735},{"t":23775,"e":-3447.843},{"t":23850,"e":-3447.773},{"t":23925,"e":-3447.835},
{"t":24000,"e":-3447.782},{"t":24075,"e":-3447.837},{"t":24150,"e":-3447.77},{"t":24225,"e":-3447.852},{"t":24300,"e":-3447.792},{"t":24375,"e":-3447.847},{"t":24450,"e":-3447.776},{"t":24525,"e":-3447.833},{"t":24600,"e":-3447.786},{"t":24675,"e":-3447.855},
{"t":24750,"e":-3447.77},{"t":24825,"e":-3447.84},{"t":24900,"e":-3447.7},{"t":24975,"e":-3447.85},{"t":25050,"e":-3447.765},{"t":25125,"e":-3447.83},{"t":25200,"e":-3447.72},{"t":25275,"e":-3447.845},{"t":25350,"e":-3447.785},{"t":25425,"e":-3447.835},
{"t":25500,"e":-3447.765},{"t":25575,"e":-3447.835},{"t":25650,"e":-3447.715},{"t":25725,"e":-3447.845},{"t":25800,"e":-3447.773},{"t":25875,"e":-3447.85},{"t":25950,"e":-3447.79},{"t":26025,"e":-3447.838},{"t":26100,"e":-3447.768},{"t":26175,"e":-3447.83},
{"t":26250,"e":-3447.777},{"t":26325,"e":-3447.91},{"t":26400,"e":-3447.765},{"t":26475,"e":-3447.847},{"t":26550,"e":-3447.787},{"t":26625,"e":-3447.842},{"t":26700,"e":-3447.771},{"t":26775,"e":-3447.828},{"t":26850,"e":-3447.781},{"t":26925,"e":-3447.85},
{"t":27000,"e":-3447.82}
],
"pd": [
{"t":0,"e":-3448.045},{"t":40,"e":-3447.73},{"t":80,"e":-3447.625},{"t":120,"e":-3447.74},{"t":160,"e":-3447.67},{"t":200,"e":-3447.72},{"t":240,"e":-3447.585},{"t":280,"e":-3447.735},{"t":320,"e":-3447.69},{"t":360,"e":-3447.785},
{"t":400,"e":-3447.675},{"t":440,"e":-3447.735},{"t":480,"e":-3447.64},{"t":520,"e":-3447.745},{"t":560,"e":-3447.683},{"t":600,"e":-3447.75},{"t":640,"e":-3447.7},{"t":680,"e":-3447.738},{"t":720,"e":-3447.678},{"t":760,"e":-3447.73},
{"t":800,"e":-3447.692},{"t":840,"e":-3447.742},{"t":880,"e":-3447.64},{"t":920,"e":-3447.757},{"t":960,"e":-3447.702},{"t":1000,"e":-3447.752},{"t":1040,"e":-3447.686},{"t":1080,"e":-3447.738},{"t":1120,"e":-3447.696},{"t":1160,"e":-3447.76},
{"t":1200,"e":-3447.705},{"t":1240,"e":-3447.77},{"t":1280,"e":-3447.715},{"t":1320,"e":-3447.78},{"t":1360,"e":-3447.7},{"t":1400,"e":-3447.76},{"t":1440,"e":-3447.71},{"t":1480,"e":-3447.775},{"t":1520,"e":-3447.67},{"t":1560,"e":-3447.765},
{"t":1600,"e":-3447.715},{"t":1640,"e":-3447.84},{"t":1680,"e":-3447.735},{"t":1720,"e":-3447.79},{"t":1760,"e":-3447.723},{"t":1800,"e":-3447.795},{"t":1840,"e":-3447.74},{"t":1880,"e":-3447.783},{"t":1920,"e":-3447.718},{"t":1960,"e":-3447.775},
{"t":2000,"e":-3447.742},{"t":2040,"e":-3447.792},{"t":2080,"e":-3447.73},{"t":2120,"e":-3447.807},{"t":2160,"e":-3447.752},{"t":2200,"e":-3447.855},{"t":2240,"e":-3447.736},{"t":2280,"e":-3447.788},{"t":2320,"e":-3447.746},{"t":2360,"e":-3447.81},
{"t":2400,"e":-3447.74},{"t":2440,"e":-3447.805},{"t":2480,"e":-3447.75},{"t":2520,"e":-3447.815},{"t":2560,"e":-3447.65},{"t":2600,"e":-3447.795},{"t":2640,"e":-3447.745},{"t":2680,"e":-3447.81},{"t":2720,"e":-3447.755},{"t":2760,"e":-3447.8},
{"t":2800,"e":-3447.735},{"t":2840,"e":-3447.88},{"t":2880,"e":-3447.755},{"t":2920,"e":-3447.81},{"t":2960,"e":-3447.743},{"t":3000,"e":-3447.815},{"t":3040,"e":-3447.76},{"t":3080,"e":-3447.803},{"t":3120,"e":-3447.738},{"t":3160,"e":-3447.795},
{"t":3200,"e":-3447.742},{"t":3240,"e":-3447.792},{"t":3280,"e":-3447.73},{"t":3320,"e":-3447.807},{"t":3360,"e":-3447.752},{"t":3400,"e":-3447.802},{"t":3440,"e":-3447.736},{"t":3480,"e":-3447.788},{"t":3520,"e":-3447.746},{"t":3560,"e":-3447.81},
{"t":3600,"e":-3447.735},{"t":3640,"e":-3447.8},{"t":3680,"e":-3447.69},{"t":3720,"e":-3447.81},{"t":3760,"e":-3447.73},{"t":3800,"e":-3447.79},{"t":3840,"e":-3447.74},{"t":3880,"e":-3447.805},{"t":3920,"e":-3447.75},{"t":3960,"e":-3447.795},
{"t":4000,"e":-3447.73},{"t":4040,"e":-3447.84},{"t":4080,"e":-3447.75},{"t":4120,"e":-3447.805},{"t":4160,"e":-3447.738},{"t":4200,"e":-3447.81},{"t":4240,"e":-3447.755},{"t":4280,"e":-3447.798},{"t":4320,"e":-3447.733},{"t":4360,"e":-3447.79},
{"t":4400,"e":-3447.742},{"t":4440,"e":-3447.792},{"t":4480,"e":-3447.73},{"t":4520,"e":-3447.807},{"t":4560,"e":-3447.752},{"t":4600,"e":-3447.802},{"t":4640,"e":-3447.736},{"t":4680,"e":-3447.88},{"t":4720,"e":-3447.746},{"t":4760,"e":-3447.81},
{"t":4800,"e":-3447.735},{"t":4840,"e":-3447.805},{"t":4880,"e":-3447.745},{"t":4920,"e":-3447.815},{"t":4960,"e":-3447.73},{"t":5000,"e":-3447.795},{"t":5040,"e":-3447.74},{"t":5080,"e":-3447.81},{"t":5120,"e":-3447.75},{"t":5160,"e":-3447.8},
{"t":5200,"e":-3447.72},{"t":5240,"e":-3447.795},{"t":5280,"e":-3447.74},{"t":5320,"e":-3447.805},{"t":5360,"e":-3447.68},{"t":5400,"e":-3447.81},{"t":5440,"e":-3447.745},{"t":5480,"e":-3447.798},{"t":5520,"e":-3447.723},{"t":5560,"e":-3447.79},
{"t":5600,"e":-3447.737},{"t":5640,"e":-3447.797},{"t":5680,"e":-3447.725},{"t":5720,"e":-3447.812},{"t":5760,"e":-3447.747},{"t":5800,"e":-3447.845},{"t":5840,"e":-3447.731},{"t":5880,"e":-3447.793},{"t":5920,"e":-3447.741},{"t":5960,"e":-3447.815},
{"t":6000,"e":-3447.725},{"t":6040,"e":-3447.8},{"t":6080,"e":-3447.735},{"t":6120,"e":-3447.81},{"t":6160,"e":-3447.72},{"t":6200,"e":-3447.79},{"t":6240,"e":-3447.73},{"t":6280,"e":-3447.805},{"t":6320,"e":-3447.685},{"t":6360,"e":-3447.795},
{"t":6400,"e":-3447.745},{"t":6440,"e":-3447.825},{"t":6480,"e":-3447.765},{"t":6520,"e":-3447.835},{"t":6560,"e":-3447.753},{"t":6600,"e":-3447.85},{"t":6640,"e":-3447.685},{"t":6680,"e":-3447.828},{"t":6720,"e":-3447.748},{"t":6760,"e":-3447.82},
{"t":6800,"e":-3447.777},{"t":6840,"e":-3447.842},{"t":6880,"e":-3447.765},{"t":6920,"e":-3447.905},{"t":6960,"e":-3447.787},{"t":7000,"e":-3447.852},{"t":7040,"e":-3447.771},{"t":7080,"e":-3447.838},{"t":7120,"e":-3447.781},{"t":7160,"e":-3447.86},
{"t":7200,"e":-3447.765},{"t":7240,"e":-3447.845},{"t":7280,"e":-3447.775},{"t":7320,"e":-3447.855},{"t":7360,"e":-3447.76},{"t":7400,"e":-3447.835},{"t":7440,"e":-3447.77},{"t":7480,"e":-3447.89},{"t":7520,"e":-3447.78},{"t":7560,"e":-3447.84},
{"t":7600,"e":-3447.75},{"t":7640,"e":-3447.83},{"t":7680,"e":-3447.77},{"t":7720,"e":-3447.84},{"t":7760,"e":-3447.758},{"t":7800,"e":-3447.845},{"t":7840,"e":-3447.775},{"t":7880,"e":-3447.833},{"t":7920,"e":-3447.753},{"t":7960,"e":-3447.825},
{"t":8000,"e":-3447.757},{"t":8040,"e":-3447.822},{"t":8080,"e":-3447.745},{"t":8120,"e":-3447.837},{"t":8160,"e":-3447.71},{"t":8200,"e":-3447.832},{"t":8240,"e":-3447.751},{"t":8280,"e":-3447.818},{"t":8320,"e":-3447.761},{"t":8360,"e":-3447.84},
{"t":8400,"e":-3447.75},{"t":8440,"e":-3447.825},{"t":8480,"e":-3447.76},{"t":8520,"e":-3447.835},{"t":8560,"e":-3447.745},{"t":8600,"e":-3447.815},{"t":8640,"e":-3447.755},{"t":8680,"e":-3447.83},{"t":8720,"e":-3447.765},{"t":8760,"e":-3447.82},
{"t":8800,"e":-3447.75},{"t":8840,"e":-3447.825},{"t":8880,"e":-3447.77},{"t":8920,"e":-3447.835},{"t":8960,"e":-3447.758},{"t":9000,"e":-3447.84},{"t":9040,"e":-3447.775},{"t":9080,"e":-3447.828},{"t":9120,"e":-3447.753},{"t":9160,"e":-3447.88},
{"t":9200,"e":-3447.757},{"t":9240,"e":-3447.812},{"t":9280,"e":-3447.745},{"t":9320,"e":-3447.827},{"t":9360,"e":-3447.767},{"t":9400,"e":-3447.822},{"t":9440,"e":-3447.751},{"t":9480,"e":-3447.808},{"t":9520,"e":-3447.761},{"t":9560,"e":-3447.83},
{"t":9600,"e":-3447.745},{"t":9640,"e":-3447.82},{"t":9680,"e":-3447.755},{"t":9720,"e":-3447.88},{"t":9760,"e":-3447.74},{"t":9800,"e":-3447.81},{"t":9840,"e":-3447.75},{"t":9880,"e":-3447.825},{"t":9920,"e":-3447.76},{"t":9960,"e":-3447.815},
{"t":10000,"e":-3447.735},{"t":10040,"e":-3447.81},{"t":10080,"e":-3447.755},{"t":10120,"e":-3447.82},{"t":10160,"e":-3447.743},{"t":10200,"e":-3447.825},{"t":10240,"e":-3447.76},{"t":10280,"e":-3447.813},{"t":10320,"e":-3447.738},{"t":10360,"e":-3447.805},
{"t":10400,"e":-3447.742},{"t":10440,"e":-3447.797},{"t":10480,"e":-3447.73},{"t":10520,"e":-3447.812},{"t":10560,"e":-3447.68},{"t":10600,"e":-3447.807},{"t":10640,"e":-3447.736},{"t":10680,"e":-3447.793},{"t":10720,"e":-3447.746},{"t":10760,"e":-3447.815},
{"t":10800,"e":-3447.73},{"t":10840,"e":-3447.805},{"t":10880,"e":-3447.74},{"t":10920,"e":-3447.815},{"t":10960,"e":-3447.725},{"t":11000,"e":-3447.795},{"t":11040,"e":-3447.735},{"t":11080,"e":-3447.81},{"t":11120,"e":-3447.745},{"t":11160,"e":-3447.8},
{"t":11200,"e":-3447.725},{"t":11240,"e":-3447.8},{"t":11280,"e":-3447.69},{"t":11320,"e":-3447.81},{"t":11360,"e":-3447.733},{"t":11400,"e":-3447.815},{"t":11440,"e":-3447.75},{"t":11480,"e":-3447.803},{"t":11520,"e":-3447.728},{"t":11560,"e":-3447.795},
{"t":11600,"e":-3447.732},{"t":11640,"e":-3447.792},{"t":11680,"e":-3447.72},{"t":11720,"e":-3447.807},{"t":11760,"e":-3447.742},{"t":11800,"e":-3447.802},{"t":11840,"e":-3447.726},{"t":11880,"e":-3447.788},{"t":11920,"e":-3447.736},{"t":11960,"e":-3447.81},
{"t":12000,"e":-3447.725},{"t":12040,"e":-3447.8},{"t":12080,"e":-3447.735},{"t":12120,"e":-3447.81},{"t":12160,"e":-3447.72},{"t":12200,"e":-3447.79},{"t":12240,"e":-3447.73},{"t":12280,"e":-3447.865},{"t":12320,"e":-3447.74},{"t":12360,"e":-3447.795},
{"t":12400,"e":-3447.72},{"t":12440,"e":-3447.795},{"t":12480,"e":-3447.74},{"t":12520,"e":-3447.805},{"t":12560,"e":-3447.728},{"t":12600,"e":-3447.81},{"t":12640,"e":-3447.745},{"t":12680,"e":-3447.798},{"t":12720,"e":-3447.723},{"t":12760,"e":-3447.79},
{"t":12800,"e":-3447.727},{"t":12840,"e":-3447.787},{"t":12880,"e":-3447.655},{"t":12920,"e":-3447.802},{"t":12960,"e":-3447.737},{"t":13000,"e":-3447.797},{"t":13040,"e":-3447.721},{"t":13080,"e":-3447.783},{"t":13120,"e":-3447.731},{"t":13160,"e":-3447.805},
{"t":13200,"e":-3447.72},{"t":13240,"e":-3447.795},{"t":13280,"e":-3447.73},{"t":13320,"e":-3447.805},{"t":13360,"e":-3447.715},{"t":13400,"e":-3447.785},{"t":13440,"e":-3447.725},{"t":13480,"e":-3447.8},{"t":13520,"e":-3447.735},{"t":13560,"e":-3447.79},
{"t":13600,"e":-3447.71},{"t":13640,"e":-3447.785},{"t":13680,"e":-3447.73},{"t":13720,"e":-3447.795},{"t":13760,"e":-3447.718},{"t":13800,"e":-3447.8},{"t":13840,"e":-3447.735},{"t":13880,"e":-3447.788},{"t":13920,"e":-3447.713},{"t":13960,"e":-3447.78},
{"t":14000,"e":-3447.722},{"t":14040,"e":-3447.782},{"t":14080,"e":-3447.71},{"t":14120,"e":-3447.855},{"t":14160,"e":-3447.732},{"t":14200,"e":-3447.792},{"t":14240,"e":-3447.716},{"t":14280,"e":-3447.778},{"t":14320,"e":-3447.66},{"t":14360,"e":-3447.8},
{"t":14400,"e":-3447.72},{"t":14440,"e":-3447.795},{"t":14480,"e":-3447.73},{"t":14520,"e":-3447.805},{"t":14560,"e":-3447.715},{"t":14600,"e":-3447.785},{"t":14640,"e":-3447.725},{"t":14680,"e":-3447.8},{"t":14720,"e":-3447.735},{"t":14760,"e":-3447.79},
{"t":14800,"e":-3447.715},{"t":14840,"e":-3447.8},{"t":14880,"e":-3447.735},{"t":14920,"e":-3447.855},{"t":14960,"e":-3447.728},{"t":15000,"e":-3447.79},{"t":15040,"e":-3447.84}
]
},
"vconcat": [
{
"bounds": "flush",
"spacing": 79,
"vconcat": [
{
"width": 531, "height": 305,
"layer": [
{"data": {"name": "pa"}, "mark": {"type": "line", "color": "#1f3864", "strokeWidth": 1.3},
 "encoding": {
  "x": {"field": "t", "type": "quantitative", "title": "Time Steps", "scale": {"domain": [0, 22000], "nice": false}, "axis": {"values": [0, 5000, 10000, 15000, 20000], "format": "d", "labelOverlap": false}},
  "y": {"field": "e", "type": "quantitative", "title": "Potential Energy", "scale": {"domain": [-3455.85, -3455.55], "nice": false, "zero": false}, "axis": {"values": [-3455.85, -3455.8, -3455.75, -3455.7, -3455.65, -3455.6, -3455.55], "tickCount": 30, "labelExpr": "'-' + format(abs(datum.value), '.2f')", "labelOverlap": false}}}},
{"data": {"values": [{"x1": 4000, "x2": 20000, "y1": -3455.85, "y2": -3455.55}]}, "mark": {"type": "rect", "filled": false, "color": "#ee1c24", "strokeWidth": 1.8},
 "encoding": {"x": {"field": "x1", "type": "quantitative", "title": "Time Steps"}, "x2": {"field": "x2"}, "y": {"field": "y1", "type": "quantitative", "title": "Potential Energy"}, "y2": {"field": "y2"}}},
{"data": {"values": [{"x": 14390, "y": -3455.532, "label": "[Eu³⁺-EDTA⁴⁻(H₂O)₃]⁻"}]}, "mark": {"type": "text", "fontSize": 25, "font": "Liberation Serif", "color": "black", "baseline": "middle"},
 "encoding": {"x": {"field": "x", "type": "quantitative", "title": "Time Steps"}, "y": {"field": "y", "type": "quantitative", "title": "Potential Energy"}, "text": {"field": "label"}}},
{"data": {"values": [{"x": -4752, "y": -3455.5185, "label": "a"}]}, "mark": {"type": "text", "fontSize": 32, "font": "Liberation Serif", "color": "black", "baseline": "middle"},
 "encoding": {"x": {"field": "x", "type": "quantitative", "title": "Time Steps"}, "y": {"field": "y", "type": "quantitative", "title": "Potential Energy"}, "text": {"field": "label"}}}
]
},
{
"width": 525, "height": 310,
"layer": [
{"data": {"name": "pb"}, "mark": {"type": "line", "color": "#1f3864", "strokeWidth": 1.3},
 "encoding": {
  "x": {"field": "t", "type": "quantitative", "title": "Time Steps", "scale": {"domain": [0, 40000], "nice": false}, "axis": {"values": [0, 10000, 20000, 30000, 40000], "format": "d", "labelOverlap": false}},
  "y": {"field": "e", "type": "quantitative", "title": "Potential Energy", "scale": {"domain": [-3448.05, -3447.55], "nice": false, "zero": false}, "axis": {"values": [-3448.05, -3448, -3447.95, -3447.9, -3447.85, -3447.8, -3447.75, -3447.7, -3447.65, -3447.6, -3447.55], "tickCount": 30, "labelExpr": "'-' + format(abs(datum.value), '.2f')", "labelOverlap": false}}}},
{"data": {"values": [{"x1": 13000, "x2": 37600, "y1": -3448.05, "y2": -3447.55}]}, "mark": {"type": "rect", "filled": false, "color": "#ee1c24", "strokeWidth": 1.8},
 "encoding": {"x": {"field": "x1", "type": "quantitative", "title": "Time Steps"}, "x2": {"field": "x2"}, "y": {"field": "y1", "type": "quantitative", "title": "Potential Energy"}, "y2": {"field": "y2"}}},
{"data": {"values": [{"x": 25450, "y": -3447.6016, "label": "[Eu³⁺–NA•(H₂O)₃]³⁺"}]}, "mark": {"type": "text", "fontSize": 26, "font": "Liberation Serif", "color": "black", "baseline": "middle"},
 "encoding": {"x": {"field": "x", "type": "quantitative", "title": "Time Steps"}, "y": {"field": "y", "type": "quantitative", "title": "Potential Energy"}, "text": {"field": "label"}}},
{"data": {"values": [{"x": -8686, "y": -3447.4935, "label": "b"}]}, "mark": {"type": "text", "fontSize": 32, "font": "Liberation Serif", "color": "black", "baseline": "middle"},
 "encoding": {"x": {"field": "x", "type": "quantitative", "title": "Time Steps"}, "y": {"field": "y", "type": "quantitative", "title": "Potential Energy"}, "text": {"field": "label"}}}
]
},
{
"width": 529, "height": 305,
"layer": [
{"data": {"name": "pc"}, "mark": {"type": "line", "color": "#1f3864", "strokeWidth": 1.3},
 "encoding": {
  "x": {"field": "t", "type": "quantitative", "title": "Time Steps", "scale": {"domain": [0, 27000], "nice": false}, "axis": {"values": [0, 5000, 10000, 15000, 20000, 25000], "format": "d", "labelOverlap": false}},
  "y": {"field": "e", "type": "quantitative", "title": "Potential Energy", "scale": {"domain": [-3448.05, -3447.55], "nice": false, "zero": false}, "axis": {"values": [-3448.05, -3448, -3447.95, -3447.9, -3447.85, -3447.8, -3447.75, -3447.7, -3447.65, -3447.6, -3447.55], "tickCount": 30, "labelExpr": "'-' + format(abs(datum.value), '.2f')", "labelOverlap": false}}}},
{"data": {"values": [{"x1": 8000, "x2": 27000, "y1": -3448.05, "y2": -3447.55}]}, "mark": {"type": "rect", "filled": false, "color": "#ee1c24", "strokeWidth": 1.8},
 "encoding": {"x": {"field": "x1", "type": "quantitative", "title": "Time Steps"}, "x2": {"field": "x2"}, "y": {"field": "y1", "type": "quantitative", "title": "Potential Energy"}, "y2": {"field": "y2"}}},
{"data": {"values": [{"x": 18425, "y": -3447.6025, "label": "[Eu³⁺–NA•(H₂O)₄]³⁺"}]}, "mark": {"type": "text", "fontSize": 26, "font": "Liberation Serif", "color": "black", "baseline": "middle"},
 "encoding": {"x": {"field": "x", "type": "quantitative", "title": "Time Steps"}, "y": {"field": "y", "type": "quantitative", "title": "Potential Energy"}, "text": {"field": "label"}}},
{"data": {"values": [{"x": -5665, "y": -3447.5057, "label": "c"}]}, "mark": {"type": "text", "fontSize": 32, "font": "Liberation Serif", "color": "black", "baseline": "middle"},
 "encoding": {"x": {"field": "x", "type": "quantitative", "title": "Time Steps"}, "y": {"field": "y", "type": "quantitative", "title": "Potential Energy"}, "text": {"field": "label"}}}
]
}
]
},
{
"width": 499, "height": 294,
"layer": [
{"data": {"name": "pd"}, "mark": {"type": "line", "color": "#1f3864", "strokeWidth": 1.3},
 "encoding": {
  "x": {"field": "t", "type": "quantitative", "title": "Time Steps", "scale": {"domain": [0, 15060], "nice": false}, "axis": {"values": [0, 5000, 10000, 15000], "format": "d", "labelOverlap": false, "labelPadding": 18, "titlePadding": 4}},
  "y": {"field": "e", "type": "quantitative", "title": "Potential Energy", "scale": {"domain": [-3448.05, -3447.55], "nice": false, "zero": false}, "axis": {"values": [-3448.05, -3448, -3447.95, -3447.9, -3447.85, -3447.8, -3447.75, -3447.7, -3447.65, -3447.6, -3447.55], "tickCount": 30, "labelExpr": "'-' + format(abs(datum.value), '.2f')", "labelOverlap": false}}}},
{"data": {"values": [{"x1": 5000, "x2": 15000, "y1": -3448.05, "y2": -3447.55}]}, "mark": {"type": "rect", "filled": false, "color": "#ee1c24", "strokeWidth": 1.8},
 "encoding": {"x": {"field": "x1", "type": "quantitative", "title": "Time Steps"}, "x2": {"field": "x2"}, "y": {"field": "y1", "type": "quantitative", "title": "Potential Energy"}, "y2": {"field": "y2"}}},
{"data": {"values": [{"x": 11182, "y": -3447.579, "label": "[Eu³⁺–NA•(H₂O)₅]³⁺"}]}, "mark": {"type": "text", "fontSize": 26, "font": "Liberation Serif", "color": "black", "baseline": "middle"},
 "encoding": {"x": {"field": "x", "type": "quantitative", "title": "Time Steps"}, "y": {"field": "y", "type": "quantitative", "title": "Potential Energy"}, "text": {"field": "label"}}},
{"data": {"values": [{"x": -3214, "y": -3447.4718, "label": "d"}]}, "mark": {"type": "text", "fontSize": 32, "font": "Liberation Serif", "color": "black", "baseline": "middle"},
 "encoding": {"x": {"field": "x", "type": "quantitative", "title": "Time Steps"}, "y": {"field": "y", "type": "quantitative", "title": "Potential Energy"}, "text": {"field": "label"}}}
]
}
]
}
